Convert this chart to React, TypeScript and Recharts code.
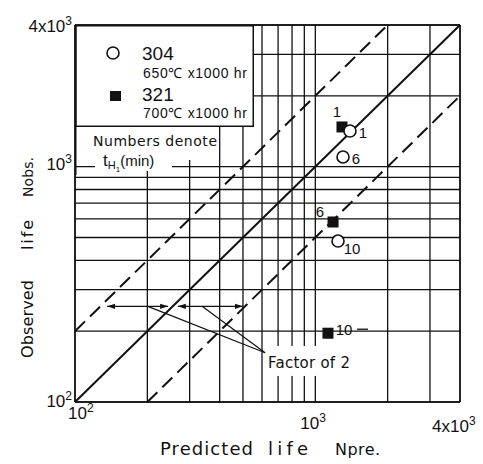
import React from "react";
import {
  ScatterChart,
  Scatter,
  XAxis,
  YAxis,
  CartesianGrid,
  ReferenceLine,
  ReferenceDot,
  Legend,
} from "recharts";

// grid lines of the log-log paper, both axes
const gridTicks = [100, 200, 300, 400, 500, 600, 700, 800, 900, 1000, 2000, 3000, 4000];
const axisDomain = [100, 4000];

// observed vs predicted life, numbers = tH1 (min)
const steel304 = [
  { x: 1394, y: 1418, tH: 1 },
  { x: 1304, y: 1100, tH: 6 },
  { x: 1243, y: 483, tH: 10 },
];
const steel321 = [
  { x: 1291, y: 1475, tH: 1 },
  { x: 1185, y: 582, tH: 6 },
  { x: 1129, y: 196, tH: 10 },
];

const equalLine = [{ x: 100, y: 100 }, { x: 4000, y: 4000 }];
const upperBound = [{ x: 100, y: 200 }, { x: 2000, y: 4000 }];
const lowerBound = [{ x: 200, y: 100 }, { x: 4000, y: 2000 }];
const arrowSpans = [
  [{ x: 136, y: 255 }, { x: 244, y: 255 }],
  [{ x: 268, y: 255 }, { x: 500, y: 255 }],
];
const leaderLines = [
  [{ x: 201, y: 255 }, { x: 618, y: 162 }],
  [{ x: 338, y: 255 }, { x: 618, y: 162 }],
];
const factorNote = { x: 941, y: 148, text: "Factor of 2" };

const ink = "#111";
const font = "'Liberation Sans', Arial, sans-serif";
const wide = "'DejaVu Sans', sans-serif";

// label placement next to each point, keyed by tH
const offsets304: Record<number, { dx: number; dy: number }> = {
  1: { dx: 13, dy: 2 },
  6: { dx: 13, dy: 2 },
  10: { dx: 14, dy: 7 },
};
const offsets321: Record<number, { dx: number; dy: number; dash?: boolean }> = {
  1: { dx: -5, dy: -15 },
  6: { dx: -13, dy: -10 },
  10: { dx: 16, dy: -4, dash: true },
};

const tickPlacement: Record<number, { dx: number; dy: number }> = {
  100: { dx: -7, dy: 18 },
  1000: { dx: -15, dy: 28 },
  4000: { dx: -28, dy: 31 },
};
const yTickBaseline: Record<number, number> = { 100: 5, 1000: 3, 4000: 7 };

const tickMain = (v: number) => (v === 4000 ? "4x10" : "10");
const tickSup = (v: number) => (v === 100 ? "2" : "3");

const XTick = (props: any) => {
  const v = props.payload?.value;
  const p = tickPlacement[v];
  if (!p) return <g />;
  return (
    <text x={props.x + p.dx} y={props.y - 3 + p.dy} fontSize={17} fontFamily={font} fill={ink} textAnchor="start">
      {tickMain(v)}
      <tspan fontSize={12} dy={-7}>{tickSup(v)}</tspan>
    </text>
  );
};

const YTick = (props: any) => {
  const v = props.payload?.value;
  if (!(v in yTickBaseline)) return <g />;
  return (
    <text x={72} y={props.y + yTickBaseline[v]} fontSize={17} fontFamily={font} fill={ink} textAnchor="end">
      {tickMain(v)}
      <tspan fontSize={12} dy={-7}>{tickSup(v)}</tspan>
    </text>
  );
};

const XTitle = (props: any) => {
  const vb = props.viewBox;
  const base = vb.y + 53;
  return (
    <g fontFamily={wide} fill={ink} fontWeight="normal">
      <text x={vb.x + 85} y={base} fontSize={18} textLength={93} lengthAdjust="spacing">Predicted</text>
      <text x={vb.x + 193} y={base} fontSize={18} textLength={40} lengthAdjust="spacing">life</text>
      <text x={vb.x + 260} y={base} fontSize={16} textLength={45} lengthAdjust="spacing">Npre.</text>
    </g>
  );
};

const YTitle = () => {
  const bx = 33;
  const parts = [
    { t: "Observed", c: 319, len: 78, fs: 16 },
    { t: "life", c: 235, len: 30, fs: 16 },
    { t: "Nobs.", c: 177, len: 40, fs: 14 },
  ];
  return (
    <g fontFamily={wide} fill={ink} fontWeight="normal">
      {parts.map((p) => (
        <text key={p.t} x={bx} y={p.c} fontSize={p.fs} textAnchor="middle" transform={`rotate(-90 ${bx} ${p.c})`} textLength={p.len} lengthAdjust="spacing">
          {p.t}
        </text>
      ))}
    </g>
  );
};

const ArrowShape = (p: any) => {
  const { x1, y1, x2, y2 } = p;
  const h = 8;
  const w = 2.6;
  return (
    <g>
      <line x1={x1} y1={y1} x2={x2} y2={y2} stroke={ink} strokeWidth={1.3} />
      <polygon points={`${x1},${y1} ${x1 + h},${y1 - w} ${x1 + h},${y1 + w}`} fill={ink} />
      <polygon points={`${x2},${y2} ${x2 - h},${y2 - w} ${x2 - h},${y2 + w}`} fill={ink} />
    </g>
  );
};

const FactorLabel = (p: any) => (
  <g>
    <rect x={p.cx - 40} y={p.cy - 16} width={84} height={30} fill="#fff" />
    <text x={p.cx} y={p.cy + 6} fontSize={15} fontFamily={wide} fill={ink} textAnchor="middle" textLength={82} lengthAdjust="spacing">
      {factorNote.text}
    </text>
  </g>
);

const CircleMark = (p: any) => {
  const { cx, cy, payload } = p;
  const o = offsets304[payload.tH];
  return (
    <g>
      <circle cx={cx} cy={cy} r={6} fill="#fff" stroke={ink} strokeWidth={1.6} />
      <text x={cx + o.dx} y={cy + o.dy} fontSize={15} fontFamily={font} fill={ink} textAnchor="middle" dominantBaseline="central">
        {payload.tH}
      </text>
    </g>
  );
};

const SquareMark = (p: any) => {
  const { cx, cy, payload } = p;
  const o = offsets321[payload.tH];
  return (
    <g>
      <rect x={cx - 5.5} y={cy - 5.5} width={11} height={11} fill={ink} />
      <text x={cx + o.dx} y={cy + o.dy} fontSize={15} fontFamily={font} fill={ink} textAnchor="middle" dominantBaseline="central">
        {payload.tH}
      </text>
      {o.dash && <line x1={cx + o.dx + 13} y1={cy + o.dy} x2={cx + o.dx + 24} y2={cy + o.dy} stroke={ink} strokeWidth={1.3} />}
    </g>
  );
};

const LegendBox = () => (
  <svg width={182} height={150} style={{ display: "block", overflow: "visible" }} fontFamily={font}>
    <rect x={0.75} y={0.75} width={177.5} height={100.5} fill="#fff" stroke={ink} strokeWidth={1.5} />
    <rect x={1.5} y={102} width={140} height={33} fill="#fff" />
    <rect x={20} y={126} width={77} height={20} fill="#fff" />
    <line x1={0.75} y1={0} x2={0.75} y2={150} stroke={ink} strokeWidth={1.5} />
    <circle cx={38} cy={28} r={6} fill="#fff" stroke={ink} strokeWidth={1.6} />
    <text x={67} y={35} fontSize={19} fill={ink}>304</text>
    <text x={68} y={53} fontSize={14} fill={ink} textLength={104} lengthAdjust="spacing">650℃ x1000 hr</text>
    <rect x={35} y={66} width={11} height={10} fill={ink} />
    <text x={67} y={76} fontSize={19} fill={ink}>321</text>
    <text x={68} y={93} fontSize={14} fill={ink} textLength={104} lengthAdjust="spacing">700℃ x1000 hr</text>
    <text x={18} y={121} fontSize={14} fontFamily={wide} fill={ink} textLength={124} lengthAdjust="spacing">Numbers denote</text>
    <text x={28} y={141} fontSize={17} fill={ink}>
      t<tspan fontSize={11} dy={3}>H</tspan>
      <tspan fontSize={8} dy={3}>1</tspan>
      <tspan fontSize={15} dy={-6}>(min)</tspan>
    </text>
  </svg>
);

export default function App() {
  return (
    <div style={{ position: "absolute", left: 0, top: 0, width: 483, height: 464, background: "#fff" }}>
      <ScatterChart width={483} height={464} margin={{ top: 25, right: 23, bottom: 0, left: 0 }}>
        <CartesianGrid stroke={ink} strokeWidth={1.3} />
        <XAxis
          type="number"
          dataKey="x"
          scale="log"
          domain={axisDomain}
          allowDataOverflow
          ticks={gridTicks}
          interval={0}
          tick={<XTick />}
          tickLine={false}
          tickSize={0}
          axisLine={{ stroke: ink, strokeWidth: 1.5 }}
          height={62}
          label={{ content: XTitle }}
        />
        <YAxis
          type="number"
          dataKey="y"
          scale="log"
          domain={axisDomain}
          allowDataOverflow
          ticks={gridTicks}
          interval={0}
          tick={<YTick />}
          tickLine={false}
          tickSize={0}
          axisLine={{ stroke: ink, strokeWidth: 1.5 }}
          width={75}
          label={{ content: YTitle }}
        />
        <ReferenceLine y={4000} stroke={ink} strokeWidth={1.5} />
        <ReferenceLine x={4000} stroke={ink} strokeWidth={1.5} />
        <ReferenceLine segment={equalLine} stroke={ink} strokeWidth={2} />
        <ReferenceLine segment={upperBound} stroke={ink} strokeWidth={2} strokeDasharray="14 7" />
        <ReferenceLine segment={lowerBound} stroke={ink} strokeWidth={2} strokeDasharray="14 7" />
        <ReferenceDot x={factorNote.x} y={factorNote.y} r={0} shape={FactorLabel} />
        {arrowSpans.map((s, i) => (
          <ReferenceLine key={"a" + i} segment={s} shape={ArrowShape} />
        ))}
        {leaderLines.map((s, i) => (
          <ReferenceLine key={"l" + i} segment={s} stroke={ink} strokeWidth={1.2} />
        ))}
        <Scatter data={steel321} shape={SquareMark} isAnimationActive={false} />
        <Scatter data={steel304} shape={CircleMark} isAnimationActive={false} />
        <Legend
          layout="vertical"
          align="center"
          verticalAlign="middle"
          content={LegendBox}
          wrapperStyle={{ position: "absolute", left: 75, top: 25, width: 182, height: 150 }}
        />
      </ScatterChart>
    </div>
  );
}
